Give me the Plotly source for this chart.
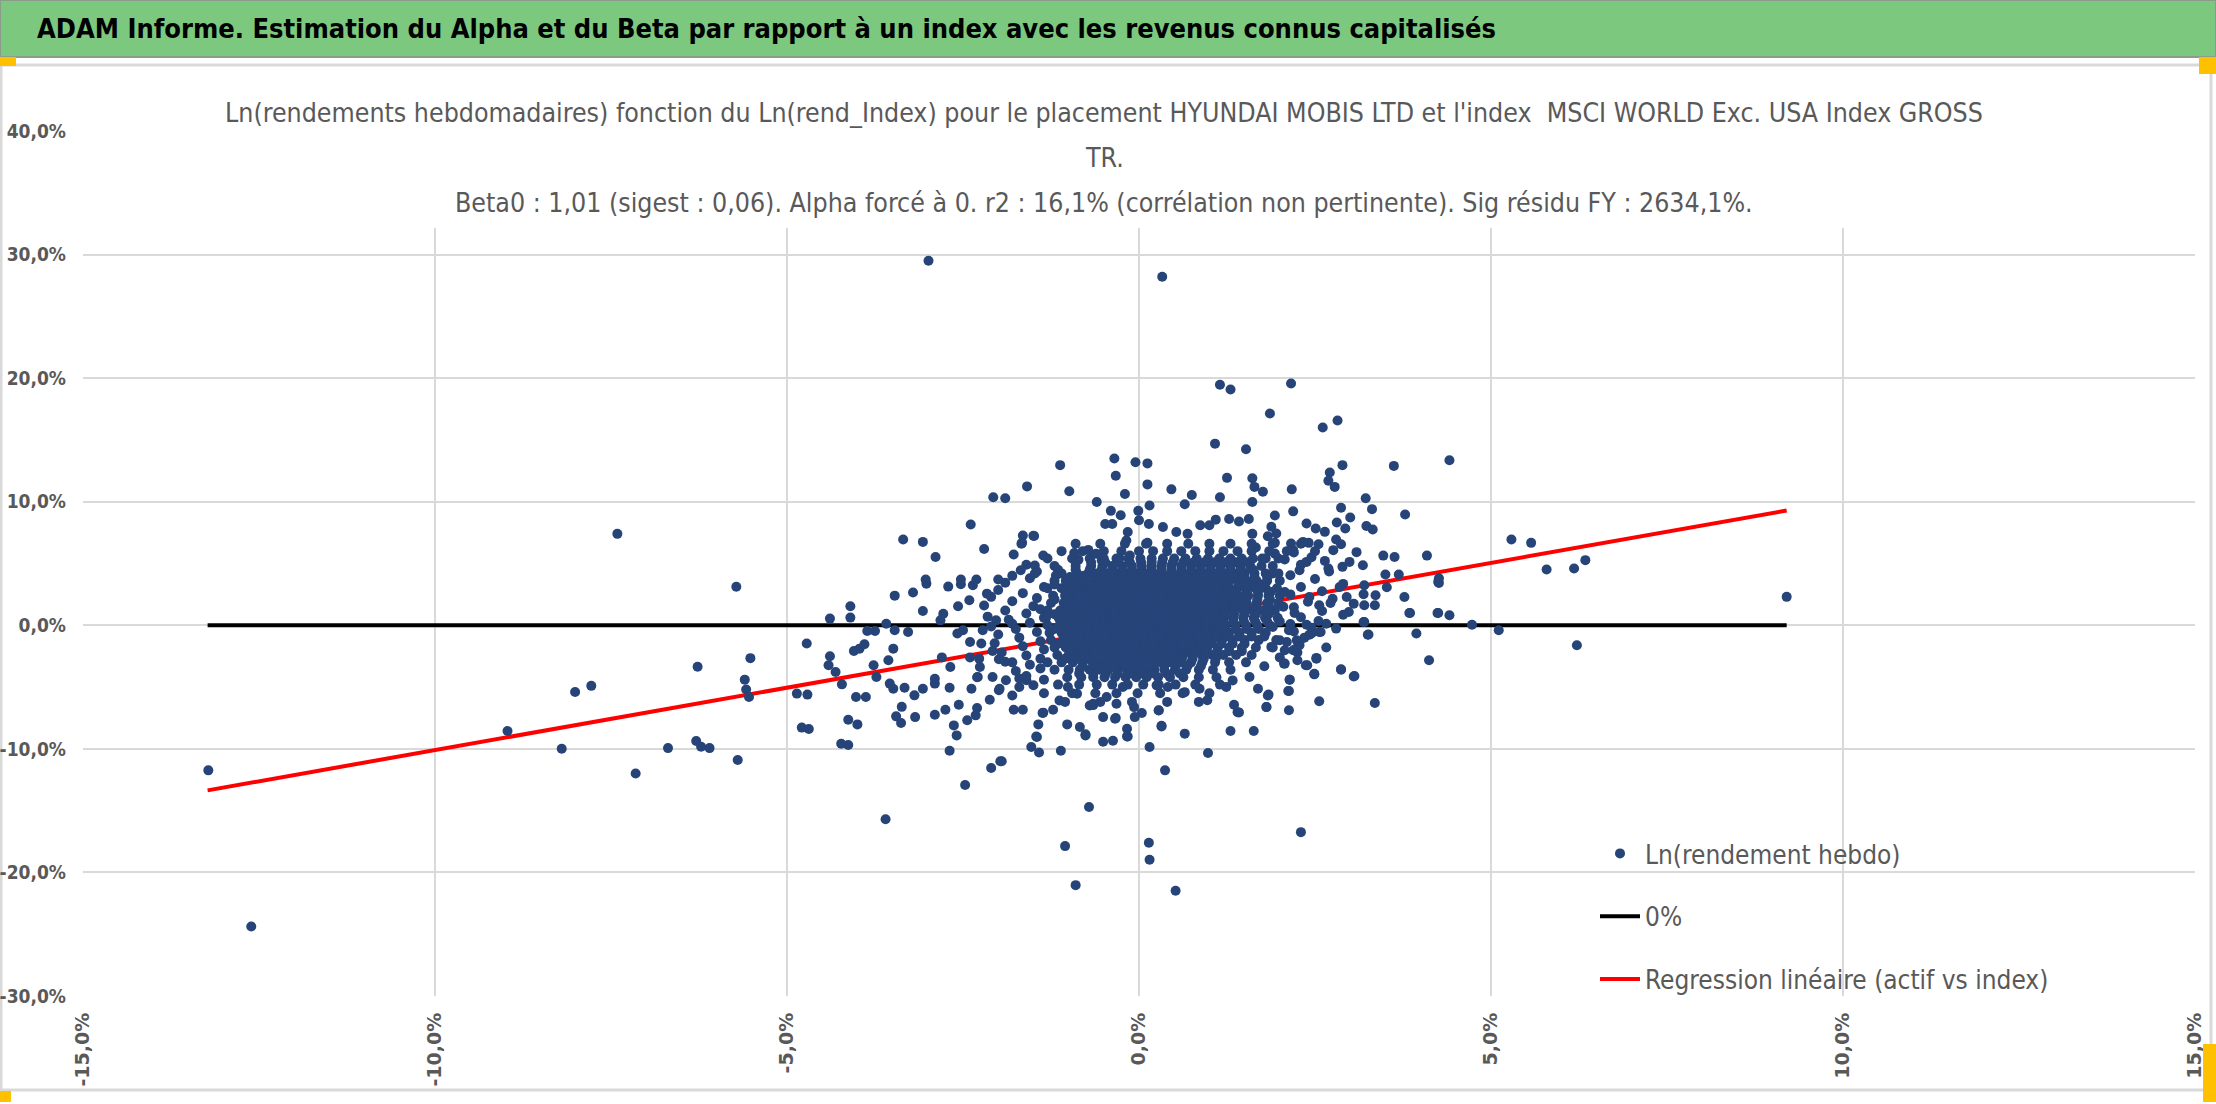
import plotly.graph_objects as go

# figure geometry in pixels (plot area = 83..2195 x 131..996)
W, H = 2216, 1104
ML, MR, MT, MB = 83, 21, 131, 108


def px(X):
    return (X - ML) / (W - ML - MR)


def py(Y):
    return (H - MB - Y) / (H - MT - MB)


TITLE = ("ADAM Informe. Estimation du Alpha et du Beta par rapport à un index "
         "avec les revenus connus capitalisés")
SUB1 = ("Ln(rendements hebdomadaires) fonction du Ln(rend_Index) pour le placement "
        "HYUNDAI MOBIS LTD et l'index  MSCI WORLD Exc. USA Index GROSS")
SUB2 = "TR."
SUB3 = ("Beta0 : 1,01 (sigest : 0,06). Alpha forcé à 0. r2 : 16,1% (corrélation non "
        "pertinente). Sig résidu FY : 2634,1%.")

x_ticks = [-15, -10, -5, 0, 5, 10, 15]
x_labels = ["-15,0%", "-10,0%", "-5,0%", "0,0%", "5,0%", "10,0%", "15,0%"]
y_ticks = [-30, -20, -10, 0, 10, 20, 30, 40]
y_labels = ["-30,0%", "-20,0%", "-10,0%", "0,0%", "10,0%", "20,0%", "30,0%", "40,0%"]

# weekly log returns (%), index on x, asset on y
left_pts = [
    (-13.22, -11.74), (-12.61, -24.37), (-8.97, -8.56), (-8.2, -9.99), (-8.01, -5.4),
    (-7.78, -4.9), (-7.41, 7.4), (-7.15, -12.0), (-6.69, -9.94), (-6.27, -3.35),
    (-6.29, -9.36), (-6.22, -9.83), (-6.1, -9.94), (-5.72, 3.12), (-5.7, -10.9),
    (-5.6, -4.4), (-5.58, -5.2), (-5.54, -5.8), (-5.52, -2.66),
]

midleft_pts = [
    (-4.72, -1.48), (-4.39, 0.54), (-4.1, 1.54), (-4.1, 0.62), (-4.39, -2.51), (-4.41, -3.24),
    (-4.31, -3.78), (-4.22, -4.78), (-4.86, -5.53), (-4.71, -5.61), (-4.79, -8.28), (-4.69, -8.39),
    (-4.23, -9.58), (-4.13, -9.69), (-4.13, -7.64), (-4.0, -8.02), (-4.02, -5.8), (-3.88, -5.8),
    (-4.05, -2.08), (-3.97, -1.89), (-3.9, -1.54), (-3.86, -0.46), (-3.75, -0.46), (-3.59, 0.13),
    (-3.47, -0.4), (-3.28, -0.54), (-3.49, -1.89), (-3.56, -2.83), (-3.77, -3.24), (-3.73, -4.18),
    (-3.54, -4.72), (-3.49, -5.13), (-3.33, -5.05), (-3.19, -5.67), (-3.07, -5.13), (-3.37, -6.6),
    (-3.45, -7.37), (-3.38, -7.91), (-3.18, -7.43), (-2.9, -7.24), (-2.9, -4.32), (-2.9, -4.72),
    (-2.75, -6.83), (-2.56, -6.43), (-2.69, -5.05), (-2.63, -8.1), (-2.59, -8.91), (-2.69, -10.15),
    (-2.44, -7.69), (-2.32, -7.29), (-2.3, -6.7), (-2.38, -5.13), (-2.29, -4.18), (-2.12, -6.02),
    (-2.47, -12.93), (-2.1, -11.55), (-1.97, -11.0), (-3.6, -15.7), (-3.47, 2.4), (-3.21, 2.65),
    (-3.07, 1.16), (-3.02, 3.37), (-2.71, 3.13), (-2.53, 3.32), (-2.36, 3.24), (-2.16, 2.56),
    (-2.41, 2.02), (-2.57, 1.54), (-2.78, 0.94), (-2.82, 0.4), (-2.24, -1.48), (-2.08, -2.08),
    (-1.99, -2.75), (-1.8, -3.0), (-2.08, -4.18), (-1.89, -4.45), (-1.7, -5.0), (-1.99, -5.26),
    (-1.6, -4.45), (-2.27, -2.7), (-2.22, -0.4), (-2.03, 0.4), (-1.8, 0.13), (-2.4, -1.35),
    (-2.5, -0.4), (-2.58, -0.67), (-2.8, -2.6), (-2.68, -3.37), (-2.4, -2.6), (-2.26, -3.37),
    (-2.3, -4.2),
]

# loose edge of the cloud, left and right of the solid part
fringe_left = [
    (-1.6, 4.9), (-1.8, 4.0), (-1.45, 4.35), (-1.9, 3.45), (-1.55, 3.8), (-1.35, 3.1),
    (-2.0, 2.85), (-1.65, 2.6), (-1.45, 2.2), (-2.1, 2.3), (-1.8, 1.95), (-1.5, 1.55),
    (-2.2, 1.6), (-1.9, 1.2), (-1.6, 0.95), (-1.4, 1.3), (-2.15, 0.7), (-1.85, 0.45),
    (-1.55, 0.2), (-1.35, 0.6), (-2.1, -0.1), (-1.75, -0.3), (-1.45, -0.55), (-2.0, -0.75),
    (-1.7, -1.0), (-1.4, -1.3), (-2.05, -1.45), (-1.65, -1.7), (-1.35, -1.95), (-1.95, -2.2),
    (-1.6, -2.45), (-1.4, -2.7), (-1.9, -2.95), (-1.55, -3.2), (-1.75, -3.7), (-1.4, -3.5),
    (-1.6, -4.1), (-1.35, -4.4), (-1.5, -4.85), (-1.7, -4.3),
]
fringe_right = [
    (2.2, 5.9), (2.45, 5.5), (2.3, 4.9), (2.7, 4.35), (2.15, 4.05), (2.5, 3.75), (2.9, 3.35),
    (2.3, 3.1), (2.6, 2.75), (2.15, 2.5), (2.75, 2.15), (2.4, 1.9), (3.05, 1.75), (2.2, 1.45),
    (2.6, 1.15), (2.9, 0.85), (2.3, 0.65), (2.55, 0.35), (2.15, 0.1), (2.45, -0.2),
    (2.2, -0.5), (2.35, -1.0), (2.1, -1.35), (2.25, -2.2), (2.0, -2.6),
]

upper_pts = [
    (-2.99, 29.5), (0.33, 28.2), (1.15, 19.46), (1.3, 19.08), (1.08, 14.7), (1.52, 14.25),
    (-0.35, 13.5), (-0.05, 13.2), (0.12, 13.1), (-1.12, 12.96), (-0.33, 12.1), (0.12, 11.4),
    (-1.59, 11.24), (-0.99, 10.85), (0.46, 11.0), (0.75, 10.55), (0.65, 9.8), (-0.2, 10.63),
    (-2.07, 10.36), (-1.9, 10.28), (-0.6, 9.98), (1.25, 11.93), (1.15, 10.36), (1.61, 11.9),
    (1.64, 11.2), (1.61, 9.98), (0.15, 9.7), (-0.4, 9.26), (-0.26, 8.9), (-0.01, 9.26),
    (0.0, 8.5), (0.14, 8.2), (-0.48, 8.2), (-0.38, 8.2), (-2.39, 8.15), (-3.35, 6.94),
    (-3.07, 6.75), (-2.89, 5.53), (-2.2, 6.18), (-1.65, 7.26), (-1.5, 7.24), (-1.66, 6.67),
    (-1.78, 5.73), (-1.36, 5.65), (-1.48, 4.84), (-1.68, 4.46), (-1.48, 4.19), (-1.18, 4.03),
    (-0.92, 5.84), (-0.86, 5.3), (-0.72, 6.1), (-0.61, 5.78), (-0.53, 5.24), (-0.28, 5.43),
    (-0.13, 5.65), (-0.18, 6.86), (-0.16, 7.55), (0.12, 6.67), (0.34, 7.96), (0.53, 7.55),
    (0.69, 7.4), (0.87, 8.1), (1.0, 8.1), (1.09, 8.55), (1.28, 8.6), (1.42, 8.4), (1.56, 8.6),
    (1.61, 7.4), (1.66, 6.3), (-3.03, 3.7), (-2.53, 3.7), (-2.31, 3.7), (-2.0, 3.7),
    (-0.98, 3.85), (-0.78, 4.0), (-0.63, 4.2), (-1.49, 7.22), (-1.67, 6.6),
    (2.16, 19.57), (1.86, 17.14), (2.61, 16.0), (2.82, 16.57), (2.89, 12.96), (3.62, 12.9),
    (4.41, 13.35), (2.71, 12.36), (2.69, 11.7), (2.78, 11.2), (1.76, 10.8), (2.17, 11.0),
    (3.22, 10.28), (3.31, 9.4), (2.87, 9.51), (2.19, 9.22), (3.78, 8.96), (1.93, 8.88),
    (3.0, 8.72), (2.81, 8.32), (2.93, 7.83), (3.23, 8.04), (3.32, 7.75), (2.38, 8.24),
    (2.51, 7.83), (2.64, 7.56), (1.88, 7.97), (1.95, 7.43), (1.83, 7.21), (2.8, 6.94),
    (2.87, 6.56), (2.33, 6.75), (2.41, 6.67), (2.55, 6.56), (2.16, 6.62), (1.93, 6.67),
    (2.76, 6.08), (3.09, 5.92), (2.19, 6.08), (1.93, 5.8), (3.47, 5.64), (3.63, 5.53),
    (4.09, 5.64), (2.07, 5.32), (2.38, 5.13), (2.64, 5.21), (2.89, 4.73), (2.99, 5.13),
    (3.18, 4.86), (1.75, 5.4), (2.28, 4.46), (2.69, 4.59), (3.5, 4.11), (3.69, 4.11),
    (4.26, 3.8), (1.9, 4.19),
]

right_pts = [
    (5.29, 6.94), (5.57, 6.67), (5.79, 4.51), (6.18, 4.59), (6.34, 5.27), (9.2, 2.3),
    (4.26, 3.43), (3.77, 2.29), (3.85, 1.0), (4.25, 1.0), (4.41, 0.81), (4.73, 0.05),
    (5.11, -0.4), (6.22, -1.62), (4.12, -2.83), (3.94, -0.67), (3.26, -0.75), (3.2, 0.27),
    (2.8, -0.27), (2.66, 0.13), (2.66, -1.8), (2.52, -2.64), (2.38, 0.05), (2.45, -0.67),
    (2.58, -0.54), (2.87, -3.56), (3.06, -4.1), (2.49, -3.97), (2.39, -3.24), (2.25, -2.83),
    (2.06, -3.1), (2.14, -4.4), (2.13, -5.32), (2.13, -6.88), (2.56, -6.15), (3.35, -6.29),
    (1.84, -5.61), (1.81, -6.61), (1.78, -3.32), (2.3, -16.74), (3.2, 3.24), (3.36, 2.43),
    (3.2, 1.62), (3.35, 1.62), (2.98, 1.08), (2.72, 1.81), (2.95, 2.29), (3.19, 2.51),
    (3.52, 3.08), (2.21, 1.0), (2.24, -1.21), (2.28, -1.62), (2.07, -2.02), (2.19, -2.02),
    (1.88, -1.75), (2.0, -1.21), (2.13, -0.4), (1.9, -0.13), (2.42, 2.29), (2.56, 1.62),
    (2.85, 3.1), (4.24, 1.0), (4.25, 3.51), (3.84, 1.0), (2.37, -3.24), (2.49, -3.92),
    (2.52, -2.7), (2.87, -3.6), (3.05, -4.14), (3.25, -0.76), (3.19, 0.27), (2.42, -0.76),
    (2.56, -0.54), (2.23, -1.89), (2.28, -1.35), (2.07, -3.1),
]

lower_pts = [
    (-1.78, -6.83), (-1.65, -6.83), (-1.36, -7.07), (-1.22, -6.83), (-1.43, -8.02), (-1.45, -9.04),
    (-1.53, -9.85), (-1.42, -10.3), (-1.11, -10.15), (-1.02, -8.02), (-0.84, -8.23), (-0.76, -8.82),
    (-0.65, -6.46), (-0.51, -7.43), (-0.33, -7.51), (-0.51, -9.42), (-0.37, -9.34), (-0.17, -8.99),
    (-0.17, -8.37), (-0.07, -6.62), (0.04, -7.1), (0.15, -9.85), (0.28, -6.88), (0.32, -8.13),
    (0.37, -11.74), (0.65, -8.77), (0.98, -10.34), (1.3, -8.56), (1.63, -8.56), (1.35, -6.43),
    (1.42, -7.05), (0.97, -6.07), (-0.71, -14.71), (-1.05, -17.87), (-0.9, -21.03),
    (0.14, -17.6), (0.15, -18.97), (0.52, -21.48), (-1.95, -11.0), (-0.16, -9.0),
    (-0.06, -7.43), (-0.34, -7.57), (-0.76, -8.92), (-1.46, -9.0), (1.4, -7.03), (1.81, -6.62),
    (1.83, -5.68), (2.12, -5.32), (2.14, -4.4), (1.69, -5.14), (1.57, -4.19), (0.32, -8.19),
    (0.28, -6.89), (-0.7, -6.49), (-1.37, -7.1), (-1.8, -5.68), (-1.98, -5.14), (-1.13, -6.08),
    (-1.01, -5.0), (-0.88, -5.54), (-0.65, -6.35), (-0.46, -5.81), (-0.32, -6.35), (-0.23, -5.0),
    (0.25, -4.86), (0.41, -5.0), (0.65, -5.41), (0.86, -5.14), (1.24, -5.0), (1.33, -4.46),
]

# dense core: one row of index values per asset level
core_rows = [
    (6.6, [-0.9, -0.55, -0.2, 0.1, 0.4, 0.7, 1.0, 1.3, 1.6, 1.9, 2.3]),
    (6.0, [-1.1, -0.8, -0.5, -0.25, 0.0, 0.2, 0.4, 0.6, 0.8, 1.0, 1.2, 1.4, 1.6, 1.85, 2.1, 2.5]),
    (5.4, [-1.3, -0.95, -0.7, -0.5, -0.32, -0.15, 0.02, 0.18, 0.34, 0.5, 0.66, 0.82, 0.98, 1.14,
           1.3, 1.46, 1.62, 1.8, 1.98]),
    (4.8, [-1.2, -0.9, -0.68, -0.52, -0.38, -0.24, -0.1, 0.04, 0.18, 0.32, 0.46, 0.6, 0.74,
           0.88, 1.02, 1.16, 1.3, 1.44, 1.58, 1.74, 1.9]),
    (4.2, [-1.1, -0.88, -0.72, -0.58, -0.45, -0.32, -0.19, -0.06, 0.07, 0.2, 0.33, 0.46, 0.59,
           0.72, 0.85, 0.98, 1.11, 1.24, 1.37, 1.5, 1.64, 1.8, 1.98]),
    (3.6, [-1.2, -1.04, -0.9, -0.77, -0.64, -0.52, -0.4, -0.28, -0.16, -0.04, 0.08, 0.2, 0.32,
           0.44, 0.56, 0.68, 0.8, 0.92, 1.04, 1.16, 1.28, 1.4, 1.53, 1.67, 1.82, 2.0]),
    (3.0, [-1.3, -1.1, -0.95, -0.8, -0.66, -0.52, -0.4, -0.28, -0.16, -0.04, 0.08, 0.2, 0.32,
           0.44, 0.56, 0.68, 0.8, 0.92, 1.04, 1.16, 1.28, 1.4, 1.52, 1.65, 1.8, 1.96]),
    (2.4, [-1.22, -1.05, -0.9, -0.76, -0.62, -0.5, -0.38, -0.26, -0.14, -0.02, 0.1, 0.22, 0.34,
           0.46, 0.58, 0.7, 0.82, 0.94, 1.06, 1.18, 1.3, 1.42, 1.55, 1.69, 1.84, 2.0]),
    (1.8, [-1.25, -1.07, -0.92, -0.78, -0.65, -0.52, -0.4, -0.28, -0.16, -0.04, 0.08, 0.2, 0.32,
           0.44, 0.56, 0.68, 0.8, 0.92, 1.04, 1.16, 1.28, 1.4, 1.53, 1.67, 1.82, 1.98]),
    (1.2, [-1.3, -1.12, -0.97, -0.83, -0.7, -0.57, -0.45, -0.33, -0.21, -0.09, 0.03, 0.15, 0.27,
           0.39, 0.51, 0.63, 0.75, 0.87, 0.99, 1.11, 1.23, 1.35, 1.48, 1.62, 1.77, 1.93]),
    (0.6, [-1.32, -1.14, -0.99, -0.85, -0.72, -0.59, -0.47, -0.35, -0.23, -0.11, 0.01, 0.13,
           0.25, 0.37, 0.49, 0.61, 0.73, 0.85, 0.97, 1.09, 1.21, 1.34, 1.48, 1.63, 1.79, 1.97]),
    (0.0, [-1.3, -1.13, -0.98, -0.84, -0.71, -0.58, -0.46, -0.34, -0.22, -0.1, 0.02, 0.14, 0.26,
           0.38, 0.5, 0.62, 0.74, 0.86, 0.98, 1.1, 1.23, 1.37, 1.52, 1.68, 1.86]),
    (-0.6, [-1.27, -1.1, -0.95, -0.81, -0.68, -0.55, -0.43, -0.31, -0.19, -0.07, 0.05, 0.17,
            0.29, 0.41, 0.53, 0.65, 0.77, 0.89, 1.01, 1.14, 1.28, 1.43, 1.6, 1.8]),
    (-1.2, [-1.25, -1.08, -0.93, -0.79, -0.66, -0.53, -0.41, -0.29, -0.17, -0.05, 0.07, 0.19,
            0.31, 0.43, 0.55, 0.67, 0.79, 0.91, 1.04, 1.18, 1.33, 1.5, 1.7, 1.95]),
    (-1.8, [-1.2, -1.04, -0.9, -0.76, -0.63, -0.5, -0.38, -0.26, -0.14, -0.02, 0.1, 0.22, 0.34,
            0.46, 0.58, 0.7, 0.83, 0.97, 1.12, 1.28, 1.46, 1.66, 1.9]),
    (-2.4, [-1.16, -1.0, -0.86, -0.72, -0.59, -0.46, -0.34, -0.22, -0.1, 0.02, 0.14, 0.26, 0.38,
            0.5, 0.62, 0.75, 0.89, 1.04, 1.2, 1.38, 1.6]),
    (-3.0, [-1.3, -1.1, -0.94, -0.8, -0.66, -0.53, -0.4, -0.28, -0.16, -0.04, 0.08, 0.2, 0.32,
            0.45, 0.59, 0.74, 0.9, 1.08, 1.28, 1.52]),
    (-3.6, [-1.2, -1.0, -0.84, -0.7, -0.56, -0.43, -0.3, -0.17, -0.04, 0.09, 0.22, 0.36, 0.51,
            0.67, 0.85, 1.05, 1.3]),
    (-4.2, [-1.02, -0.82, -0.65, -0.49, -0.34, -0.19, -0.04, 0.11, 0.27, 0.44, 0.63, 0.85,
            1.1]),
    (-4.8, [-1.15, -0.85, -0.6, -0.38, -0.16, 0.06, 0.28, 0.52, 0.8, 1.15]),
    (-5.5, [-1.35, -0.95, -0.62, -0.32, -0.02, 0.3, 0.62, 1.0]),
    (-6.2, [-1.05, -0.55, -0.1, 0.4, 0.85]),
]

# the solid centre of the cloud, between the rows above
centre_rows = [
    (5.1, [-0.9, -0.68, -0.48, -0.3, -0.13, 0.03, 0.18, 0.33, 0.48, 0.63, 0.78, 0.93, 1.08,
           1.23, 1.38, 1.55]),
    (4.5, [-1.15, -0.9, -0.7, -0.53, -0.38, -0.24, -0.1, 0.04, 0.18, 0.32, 0.46, 0.6, 0.74,
           0.88, 1.02, 1.16, 1.3, 1.45, 1.62]),
    (3.9, [-0.98, -0.8, -0.64, -0.5, -0.37, -0.24, -0.11, 0.02, 0.15, 0.28, 0.41, 0.54, 0.67,
           0.8, 0.93, 1.06, 1.19, 1.33, 1.48, 1.64, 1.82]),
    (3.3, [-1.2, -1.0, -0.84, -0.7, -0.57, -0.44, -0.31, -0.18, -0.05, 0.08, 0.21, 0.34, 0.47,
           0.6, 0.73, 0.86, 0.99, 1.12, 1.26, 1.41, 1.57, 1.75]),
    (2.7, [-1.0, -0.85, -0.71, -0.58, -0.45, -0.32, -0.19, -0.06, 0.07, 0.2, 0.33, 0.46, 0.59,
           0.72, 0.85, 0.98, 1.11, 1.24, 1.38, 1.53, 1.69, 1.87, 2.07]),
    (2.1, [-1.2, -1.01, -0.86, -0.72, -0.59, -0.46, -0.33, -0.2, -0.07, 0.06, 0.19, 0.32, 0.45,
           0.58, 0.71, 0.84, 0.97, 1.1, 1.23, 1.37, 1.52, 1.68, 1.86]),
    (1.5, [-1.02, -0.87, -0.73, -0.6, -0.47, -0.34, -0.21, -0.08, 0.05, 0.18, 0.31, 0.44, 0.57,
           0.7, 0.83, 0.96, 1.09, 1.22, 1.36, 1.51, 1.67, 1.85, 2.05]),
    (0.9, [-1.2, -1.03, -0.88, -0.74, -0.61, -0.48, -0.35, -0.22, -0.09, 0.04, 0.17, 0.3, 0.43,
           0.56, 0.69, 0.82, 0.95, 1.08, 1.21, 1.35, 1.5, 1.66, 1.84]),
    (0.3, [-1.04, -0.89, -0.75, -0.62, -0.49, -0.36, -0.23, -0.1, 0.03, 0.16, 0.29, 0.42, 0.55,
           0.68, 0.81, 0.94, 1.07, 1.2, 1.34, 1.49, 1.65, 1.82, 2.0]),
    (-0.3, [-1.2, -1.03, -0.88, -0.74, -0.61, -0.48, -0.35, -0.22, -0.09, 0.04, 0.17, 0.3,
            0.43, 0.56, 0.69, 0.82, 0.95, 1.08, 1.22, 1.37, 1.53, 1.7]),
    (-0.9, [-1.01, -0.86, -0.72, -0.59, -0.46, -0.33, -0.2, -0.07, 0.06, 0.19, 0.32, 0.45,
            0.58, 0.71, 0.84, 0.97, 1.11, 1.26, 1.42, 1.6, 1.78]),
    (-1.5, [-1.15, -0.98, -0.83, -0.69, -0.56, -0.43, -0.3, -0.17, -0.04, 0.09, 0.22, 0.35,
            0.48, 0.61, 0.74, 0.88, 1.02, 1.17, 1.33, 1.5]),
    (-2.1, [-0.94, -0.79, -0.65, -0.52, -0.39, -0.26, -0.13, 0.0, 0.13, 0.26, 0.39, 0.52,
            0.66, 0.8, 0.95, 1.11, 1.28, 1.46]),
    (-2.7, [-1.05, -0.88, -0.73, -0.59, -0.45, -0.32, -0.19, -0.06, 0.07, 0.2, 0.33, 0.47,
            0.61, 0.76, 0.92, 1.09]),
    (-3.3, [-0.8, -0.64, -0.49, -0.35, -0.21, -0.07, 0.07, 0.21, 0.36, 0.52, 0.69, 0.88]),
    (-3.9, [-0.85, -0.65, -0.47, -0.3, -0.13, 0.04, 0.21, 0.39, 0.58]),
]

# zero line and fitted line (beta 1.01, alpha forced to 0) over the index range
line_x = [-13.23, 9.2]
zero_y = [0, 0]
reg_y = [-13.36, 9.29]

pts = left_pts + midleft_pts + fringe_left + fringe_right + upper_pts + right_pts + lower_pts
for yv, xs in core_rows + centre_rows:
    pts += [(xv, yv) for xv in xs]
sx = [p[0] for p in pts]
sy = [p[1] for p in pts]

NARROW = "DejaVu Sans Condensed, sans-serif"
GREY = "#595959"
GRID = "#D9D9D9"

fig = go.Figure()
fig.add_trace(go.Scatter(x=line_x, y=zero_y, mode="lines", name="0%",
                         line=dict(color="black", width=4), legendrank=2, legendgroup="b"))
fig.add_trace(go.Scatter(x=line_x, y=reg_y, mode="lines",
                         name="Regression linéaire (actif vs index)",
                         line=dict(color="#FF0000", width=4), legendrank=3, legendgroup="c"))
fig.add_trace(go.Scatter(x=sx, y=sy, mode="markers", name="Ln(rendement hebdo)",
                         marker=dict(color="#264478", size=10, line=dict(width=0)),
                         legendrank=1, legendgroup="a"))

shapes = [
    # outer frame and title bar
    dict(type="rect", xref="paper", yref="paper", x0=px(1), x1=px(2211), y0=py(1090), y1=py(65),
         line=dict(color=GRID, width=3), fillcolor="rgba(0,0,0,0)", layer="below"),
    dict(type="rect", xref="paper", yref="paper", x0=px(0), x1=px(2216), y0=py(57), y1=py(0),
         line=dict(color="#8C9C8C", width=2), fillcolor="#7DC87F", layer="above"),
    # white box behind the chart title
    dict(type="rect", xref="paper", yref="paper", x0=px(219), x1=px(1983), y0=py(228), y1=py(128),
         line=dict(width=0), fillcolor="white", layer="above"),
    # selection handles
    dict(type="rect", xref="paper", yref="paper", x0=px(0), x1=px(16), y0=py(66), y1=py(57),
         line=dict(width=0), fillcolor="#FFC000", layer="above"),
    dict(type="rect", xref="paper", yref="paper", x0=px(2199), x1=px(2216), y0=py(74), y1=py(57),
         line=dict(width=0), fillcolor="#FFC000", layer="above"),
    dict(type="rect", xref="paper", yref="paper", x0=px(0), x1=px(11), y0=py(1102), y1=py(1091),
         line=dict(width=0), fillcolor="#FFC000", layer="above"),
    dict(type="rect", xref="paper", yref="paper", x0=px(2203), x1=px(2216), y0=py(1102), y1=py(1044),
         line=dict(width=0), fillcolor="#FFC000", layer="above"),
]

annotations = [
    dict(text=TITLE, x=px(35), y=py(29), xref="paper", yref="paper", xanchor="left",
         yanchor="middle", showarrow=False,
         font=dict(family=NARROW, size=27, color="black", weight="bold")),
    dict(text=SUB1, x=px(1104), y=py(112), xref="paper", yref="paper", xanchor="center",
         yanchor="middle", showarrow=False, font=dict(family=NARROW, size=26.5, color=GREY)),
    dict(text=SUB2, x=px(1104), y=py(157), xref="paper", yref="paper", xanchor="center",
         yanchor="middle", showarrow=False, font=dict(family=NARROW, size=26.5, color=GREY)),
    dict(text=SUB3, x=px(1104), y=py(203), xref="paper", yref="paper", xanchor="center",
         yanchor="middle", showarrow=False, font=dict(family=NARROW, size=26.5, color=GREY)),
]

fig.update_layout(
    width=W, height=H,
    margin=dict(l=ML, r=MR, t=MT, b=MB),
    paper_bgcolor="white", plot_bgcolor="white",
    shapes=shapes, annotations=annotations,
    showlegend=True,
    legend=dict(x=px(1595), xanchor="left", y=py(830), yanchor="top",
                bgcolor="rgba(0,0,0,0)", tracegroupgap=26, itemwidth=40,
                font=dict(family=NARROW, size=26, color=GREY)),
    xaxis=dict(range=[-15, 15], tickvals=x_ticks, ticktext=x_labels, tickangle=-90,
               showgrid=True, gridcolor=GRID, gridwidth=2, zeroline=False, showline=False,
               ticks="", ticklabelstandoff=12, fixedrange=True, automargin=False,
               tickfont=dict(family="DejaVu Sans", size=19, color=GREY, weight="bold")),
    yaxis=dict(range=[-30, 40], tickvals=y_ticks, ticktext=y_labels,
               showgrid=True, gridcolor=GRID, gridwidth=2, zeroline=False, showline=False,
               ticks="", ticklabelstandoff=16, fixedrange=True, automargin=False,
               tickfont=dict(family=NARROW, size=19, color=GREY, weight="bold")),
)

# the page must not add its own 8px body margin around the figure
fig.write_html("out.html", config={"displayModeBar": False},
               post_script="document.body.style.margin = '0px';")
